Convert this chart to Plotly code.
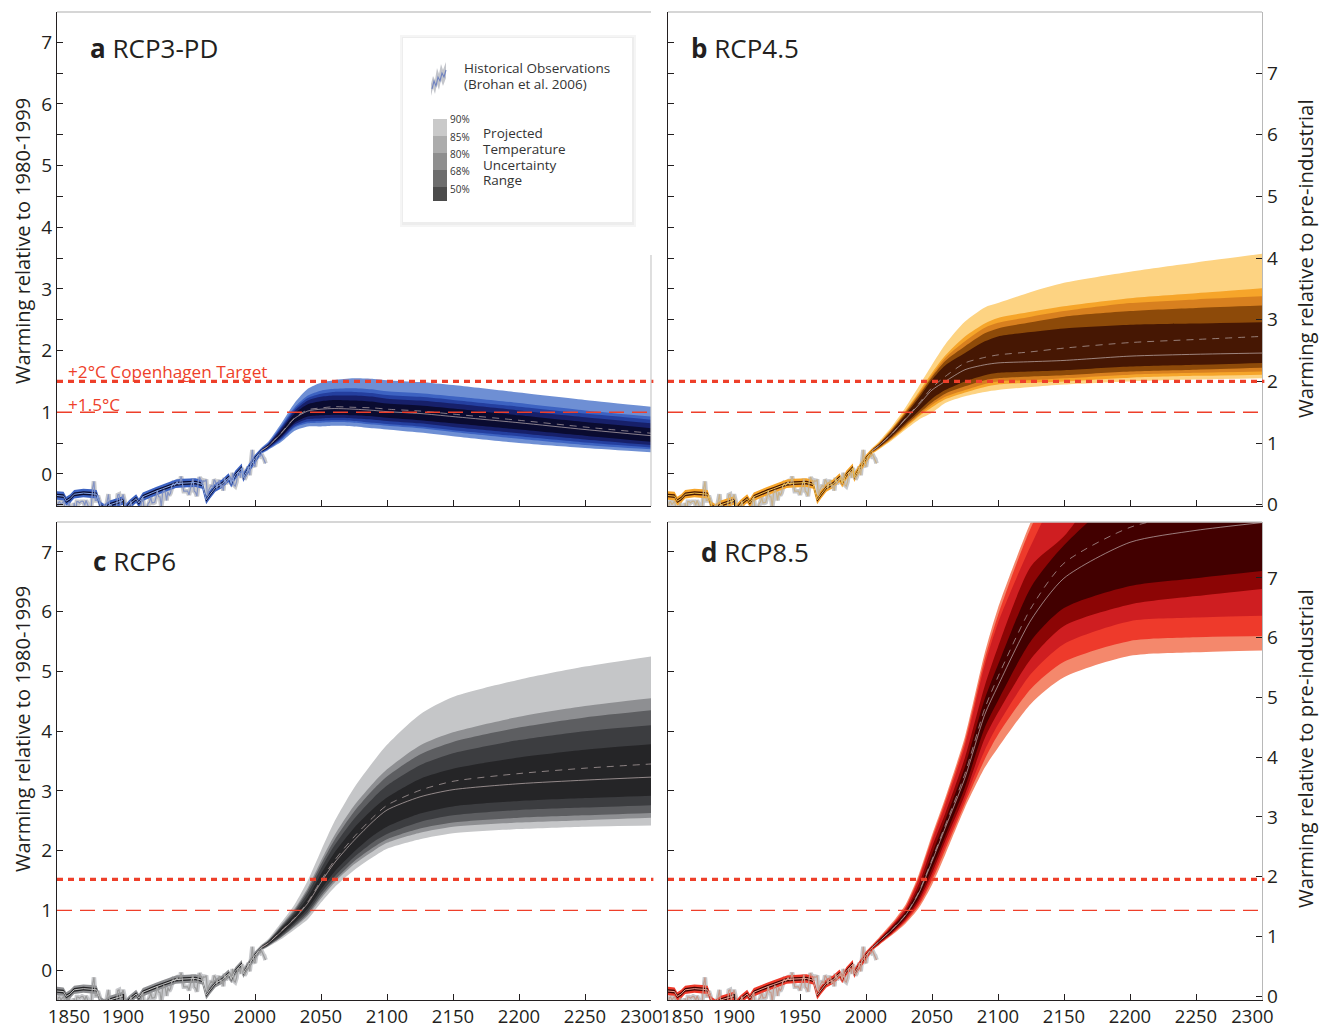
import plotly.graph_objects as go

# ------------------------------------------------------------------ data
OBS_YEARS = list(range(1850, 2009))
OBS = [
    -0.60, -0.46, -0.45, -0.50, -0.47, -0.44, -0.55, -0.66, -0.56, -0.46,
    -0.55, -0.61, -0.74, -0.47, -0.66, -0.45, -0.45, -0.47, -0.45, -0.44,
    -0.45, -0.51, -0.43, -0.48, -0.52, -0.60, -0.52, -0.23, -0.12, -0.43,
    -0.43, -0.35, -0.41, -0.48, -0.57, -0.55, -0.49, -0.56, -0.42, -0.33,
    -0.56, -0.50, -0.59, -0.62, -0.59, -0.56, -0.34, -0.33, -0.50, -0.40,
    -0.33, -0.42, -0.51, -0.60, -0.67, -0.52, -0.44, -0.61, -0.64, -0.67,
    -0.65, -0.69, -0.62, -0.61, -0.45, -0.37, -0.58, -0.69, -0.58, -0.48,
    -0.46, -0.38, -0.47, -0.47, -0.46, -0.38, -0.27, -0.37, -0.37, -0.53,
    -0.31, -0.26, -0.29, -0.43, -0.29, -0.35, -0.31, -0.19, -0.16, -0.18,
    -0.15, -0.13, -0.16, -0.16, -0.04, -0.16, -0.28, -0.28, -0.28, -0.28,
    -0.34, -0.22, -0.15, -0.08, -0.28, -0.30, -0.36, -0.12, -0.05, -0.10,
    -0.17, -0.11, -0.12, -0.09, -0.36, -0.26, -0.21, -0.18, -0.23, -0.09,
    -0.12, -0.24, -0.14, -0.10, -0.23, -0.17, -0.27, -0.06, -0.16, -0.10,
    -0.09, -0.04, -0.17, 0.02, -0.18, -0.20, -0.13, 0.02, 0.03, -0.06,
    0.09, 0.04, -0.09, -0.05, 0.01, 0.12, -0.02, 0.19, 0.39, 0.14,
    0.12, 0.25, 0.30, 0.31, 0.29, 0.32, 0.27, 0.24, 0.17,
]

HIST_YEARS = [1850, 1855, 1857, 1860, 1863, 1870, 1876, 1880, 1883, 1886, 1890, 1895, 1900,
              1902, 1905, 1910, 1912, 1915, 1920, 1925, 1930, 1935, 1940, 1945, 1950, 1955,
              1960, 1963, 1966, 1970, 1975, 1980, 1982, 1985, 1990, 1991, 1994, 2000, 2005]
HIST_MED = [-0.35, -0.36, -0.44, -0.40, -0.33, -0.31, -0.32, -0.33, -0.52, -0.56, -0.50, -0.47, -0.43,
            -0.56, -0.49, -0.40, -0.47, -0.37, -0.32, -0.28, -0.24, -0.20, -0.16, -0.15, -0.14, -0.14,
            -0.17, -0.42, -0.33, -0.22, -0.16, -0.06, -0.15, -0.02, 0.10, -0.06, 0.05, 0.25, 0.38]
HIST_HI90 = [-0.28, -0.29, -0.37, -0.33, -0.26, -0.24, -0.25, -0.26, -0.45, -0.49, -0.43, -0.40, -0.36,
             -0.49, -0.42, -0.33, -0.40, -0.30, -0.25, -0.21, -0.17, -0.13, -0.09, -0.08, -0.07, -0.07,
             -0.10, -0.35, -0.26, -0.15, -0.09, 0.01, -0.08, 0.05, 0.17, 0.01, 0.12, 0.31, 0.43]
HIST_HI50 = [-0.32, -0.33, -0.41, -0.37, -0.30, -0.28, -0.29, -0.30, -0.49, -0.53, -0.47, -0.44, -0.40,
             -0.53, -0.46, -0.37, -0.44, -0.34, -0.29, -0.25, -0.21, -0.17, -0.13, -0.12, -0.11, -0.11,
             -0.14, -0.39, -0.30, -0.19, -0.13, -0.03, -0.12, 0.01, 0.13, -0.03, 0.08, 0.28, 0.40]
HIST_LO50 = [-0.38, -0.39, -0.47, -0.43, -0.36, -0.34, -0.35, -0.36, -0.55, -0.59, -0.53, -0.50, -0.46,
             -0.59, -0.52, -0.43, -0.50, -0.40, -0.35, -0.31, -0.27, -0.23, -0.19, -0.18, -0.17, -0.17,
             -0.20, -0.45, -0.36, -0.25, -0.19, -0.09, -0.18, -0.05, 0.07, -0.09, 0.02, 0.22, 0.36]
HIST_LO90 = [-0.42, -0.43, -0.51, -0.47, -0.40, -0.38, -0.39, -0.40, -0.59, -0.63, -0.57, -0.54, -0.50,
             -0.63, -0.56, -0.47, -0.54, -0.44, -0.39, -0.35, -0.31, -0.27, -0.23, -0.22, -0.21, -0.21,
             -0.24, -0.49, -0.40, -0.29, -0.23, -0.13, -0.22, -0.09, 0.03, -0.13, -0.02, 0.18, 0.33]

PROJ_YEARS = [2005, 2010, 2020, 2030, 2040, 2050, 2060, 2075, 2090, 2100, 2125, 2150, 2200, 2250, 2300]

# a  RCP3-PD
A_P95 = [0.43, 0.52, 0.82, 1.15, 1.38, 1.48, 1.52, 1.55, 1.54, 1.52, 1.49, 1.44, 1.32, 1.20, 1.09]
A_P925 = [0.42, 0.50, 0.78, 1.08, 1.27, 1.35, 1.38, 1.39, 1.37, 1.34, 1.31, 1.26, 1.15, 1.03, 0.93]
A_P90 = [0.41, 0.49, 0.76, 1.05, 1.23, 1.30, 1.33, 1.33, 1.31, 1.28, 1.25, 1.20, 1.09, 0.98, 0.88]
A_P84 = [0.40, 0.48, 0.74, 1.02, 1.19, 1.25, 1.27, 1.27, 1.25, 1.22, 1.19, 1.14, 1.03, 0.92, 0.82]
A_P75 = [0.395, 0.47, 0.71, 0.98, 1.13, 1.18, 1.20, 1.19, 1.17, 1.14, 1.11, 1.06, 0.95, 0.84, 0.74]
A_P50 = [0.38, 0.45, 0.66, 0.90, 1.02, 1.05, 1.06, 1.05, 1.03, 1.01, 0.98, 0.93, 0.83, 0.72, 0.62]
A_MEAN = [0.38, 0.45, 0.67, 0.91, 1.04, 1.07, 1.09, 1.08, 1.07, 1.05, 1.02, 0.97, 0.87, 0.76, 0.66]
A_P25 = [0.365, 0.43, 0.61, 0.83, 0.93, 0.95, 0.96, 0.95, 0.93, 0.91, 0.87, 0.82, 0.72, 0.62, 0.52]
A_P16 = [0.36, 0.42, 0.59, 0.80, 0.89, 0.90, 0.91, 0.90, 0.88, 0.86, 0.82, 0.76, 0.66, 0.56, 0.47]
A_P10 = [0.35, 0.41, 0.57, 0.77, 0.85, 0.86, 0.87, 0.86, 0.83, 0.81, 0.77, 0.71, 0.61, 0.51, 0.43]
A_P075 = [0.34, 0.40, 0.55, 0.75, 0.82, 0.83, 0.84, 0.83, 0.80, 0.78, 0.74, 0.68, 0.57, 0.47, 0.40]
A_P05 = [0.33, 0.39, 0.52, 0.70, 0.77, 0.77, 0.78, 0.77, 0.74, 0.72, 0.67, 0.61, 0.50, 0.42, 0.35]

# b  RCP4.5
B_P95 = [0.43, 0.53, 0.78, 1.08, 1.42, 1.77, 2.10, 2.47, 2.70, 2.77, 2.95, 3.10, 3.28, 3.43, 3.57]
B_P925 = [0.42, 0.51, 0.75, 1.03, 1.33, 1.64, 1.92, 2.23, 2.44, 2.53, 2.63, 2.72, 2.85, 2.93, 3.01]
B_P90 = [0.41, 0.50, 0.74, 1.01, 1.30, 1.60, 1.88, 2.15, 2.37, 2.45, 2.55, 2.64, 2.77, 2.83, 2.88]
B_P84 = [0.40, 0.49, 0.72, 0.99, 1.27, 1.57, 1.83, 2.07, 2.28, 2.36, 2.46, 2.55, 2.64, 2.69, 2.73]
B_P75 = [0.395, 0.48, 0.70, 0.96, 1.23, 1.53, 1.76, 1.96, 2.15, 2.23, 2.30, 2.36, 2.42, 2.44, 2.46]
B_P50 = [0.38, 0.46, 0.66, 0.89, 1.12, 1.36, 1.50, 1.69, 1.77, 1.80, 1.82, 1.84, 1.91, 1.94, 1.96]
B_MEAN = [0.38, 0.46, 0.66, 0.90, 1.14, 1.40, 1.58, 1.80, 1.89, 1.93, 1.98, 2.04, 2.13, 2.18, 2.23]
B_P25 = [0.365, 0.44, 0.62, 0.82, 1.02, 1.22, 1.36, 1.50, 1.60, 1.64, 1.66, 1.68, 1.74, 1.77, 1.80]
B_P16 = [0.36, 0.43, 0.60, 0.79, 0.98, 1.16, 1.30, 1.42, 1.52, 1.55, 1.58, 1.60, 1.66, 1.69, 1.72]
B_P10 = [0.35, 0.42, 0.58, 0.77, 0.95, 1.12, 1.25, 1.36, 1.46, 1.50, 1.52, 1.55, 1.61, 1.64, 1.66]
B_P075 = [0.34, 0.41, 0.57, 0.75, 0.93, 1.08, 1.21, 1.32, 1.41, 1.45, 1.48, 1.50, 1.56, 1.59, 1.61]
B_P05 = [0.33, 0.40, 0.55, 0.72, 0.88, 0.99, 1.15, 1.26, 1.33, 1.36, 1.41, 1.45, 1.50, 1.53, 1.55]

# c  RCP6
C_P95 = [0.43, 0.52, 0.80, 1.10, 1.50, 2.00, 2.48, 3.05, 3.50, 3.77, 4.28, 4.57, 4.86, 5.08, 5.25]
C_P925 = [0.42, 0.50, 0.76, 1.03, 1.38, 1.83, 2.25, 2.75, 3.14, 3.36, 3.76, 3.98, 4.24, 4.42, 4.55]
C_P90 = [0.41, 0.49, 0.74, 1.00, 1.34, 1.77, 2.17, 2.65, 3.03, 3.24, 3.61, 3.82, 4.06, 4.23, 4.35]
C_P84 = [0.40, 0.48, 0.72, 0.97, 1.29, 1.70, 2.08, 2.53, 2.89, 3.09, 3.43, 3.63, 3.85, 4.00, 4.10]
C_P75 = [0.395, 0.47, 0.70, 0.93, 1.22, 1.61, 1.96, 2.38, 2.71, 2.89, 3.20, 3.37, 3.56, 3.69, 3.78]
C_P50 = [0.38, 0.45, 0.65, 0.86, 1.12, 1.47, 1.79, 2.17, 2.50, 2.68, 2.90, 3.02, 3.12, 3.18, 3.23]
C_MEAN = [0.38, 0.45, 0.66, 0.87, 1.14, 1.50, 1.83, 2.23, 2.57, 2.76, 3.01, 3.16, 3.29, 3.38, 3.45]
C_P25 = [0.365, 0.43, 0.60, 0.80, 1.03, 1.35, 1.64, 1.98, 2.26, 2.40, 2.62, 2.74, 2.83, 2.88, 2.92]
C_P16 = [0.36, 0.42, 0.58, 0.77, 0.98, 1.29, 1.56, 1.89, 2.15, 2.28, 2.48, 2.59, 2.68, 2.72, 2.76]
C_P10 = [0.35, 0.41, 0.56, 0.74, 0.94, 1.24, 1.50, 1.82, 2.06, 2.19, 2.37, 2.47, 2.55, 2.59, 2.63]
C_P075 = [0.34, 0.40, 0.55, 0.72, 0.91, 1.20, 1.46, 1.77, 2.00, 2.13, 2.30, 2.40, 2.47, 2.51, 2.55]
C_P05 = [0.33, 0.39, 0.52, 0.68, 0.85, 1.13, 1.38, 1.67, 1.90, 2.03, 2.19, 2.29, 2.36, 2.40, 2.42]

# d  RCP8.5
D_P95 = [0.43, 0.55, 0.80, 1.10, 1.60, 2.26, 2.88, 3.91, 5.31, 6.06, 7.51, 8.66, 9.86, 10.26, 10.46]
D_P925 = [0.42, 0.53, 0.77, 1.06, 1.56, 2.21, 2.83, 3.84, 5.21, 5.94, 7.41, 8.41, 9.56, 9.96, 10.16]
D_P90 = [0.41, 0.52, 0.76, 1.04, 1.52, 2.16, 2.76, 3.76, 5.11, 5.81, 7.11, 8.16, 9.26, 9.66, 9.86]
D_P84 = [0.40, 0.51, 0.74, 1.00, 1.44, 2.06, 2.62, 3.56, 4.76, 5.41, 6.76, 7.26, 8.66, 9.06, 9.16]
D_P75 = [0.395, 0.50, 0.72, 0.97, 1.36, 1.94, 2.51, 3.41, 4.54, 5.11, 6.41, 7.11, 8.06, 8.36, 8.46]
D_P50 = [0.38, 0.48, 0.68, 0.92, 1.29, 1.82, 2.38, 3.22, 4.28, 4.76, 5.86, 6.56, 7.16, 7.36, 7.49]
D_MEAN = [0.38, 0.48, 0.69, 0.93, 1.31, 1.85, 2.42, 3.29, 4.38, 4.91, 6.06, 6.81, 7.41, 7.66, 7.86]
D_P25 = [0.365, 0.46, 0.65, 0.88, 1.21, 1.70, 2.24, 3.06, 4.06, 4.51, 5.51, 6.06, 6.43, 6.56, 6.68]
D_P16 = [0.36, 0.45, 0.63, 0.85, 1.16, 1.62, 2.16, 2.94, 3.88, 4.31, 5.21, 5.76, 6.12, 6.26, 6.38]
D_P10 = [0.35, 0.44, 0.62, 0.83, 1.12, 1.56, 2.08, 2.86, 3.68, 4.11, 4.96, 5.46, 5.84, 5.90, 5.93]
D_P075 = [0.34, 0.43, 0.61, 0.81, 1.08, 1.50, 2.01, 2.79, 3.53, 3.94, 4.71, 5.16, 5.51, 5.57, 5.59]
D_P05 = [0.33, 0.42, 0.59, 0.78, 1.04, 1.43, 1.93, 2.72, 3.39, 3.72, 4.46, 4.90, 5.26, 5.32, 5.35]

X_TICKS = [1850, 1900, 1950, 2000, 2050, 2100, 2150, 2200, 2250, 2300]
NB = "\u00a0"
X_TEXT_C = [NB * 5 + "1850", "1900", "1950", "2000", "2050", "2100", "2150", "2200", "2250",
            "2300" + NB * 4]
X_TEXT_D = [NB * 6 + "1850", "1900", "1950", "2000", "2050", "2100", "2150", "2200", "2250",
            "2300" + NB * 4]
Y_TICKS = [0, 1, 2, 3, 4, 5, 6, 7]
Y_TICKS_HALF = [0, 0.5, 1, 1.5, 2, 2.5, 3, 3.5, 4, 4.5, 5, 5.5, 6, 6.5, 7]
COPENHAGEN = 1.5
TARGET_15 = 1.0
PERCENT_LABELS = ["90%", "85%", "80%", "68%", "50%"]

# ------------------------------------------------------------------ styles
COLORS_A = ["#6e8fd4", "#3d63c2", "#243f9f", "#17206a", "#0a0b30"]
COLORS_B = ["#fdd382", "#f6a52a", "#d8801f", "#8d4a09", "#461703"]
COLORS_C = ["#c5c6c8", "#8e8f92", "#5d5e61", "#3c3d40", "#252527"]
COLORS_D = ["#f4886c", "#ee3a2b", "#cf1e21", "#8c0505", "#420000"]
LEGEND_SWATCH = ["#c9c9c9", "#acacac", "#8f8f8f", "#6d6d6d", "#4b4b4b"]
RED = "#ee3f2a"
INK = "#231f20"
FONT = "Open Sans"

W, H = 1319, 1027


def px(x):
    return x / W


def py(y):
    return 1 - y / H


fig = go.Figure()
SPL = dict(shape="spline", smoothing=0.7)


def add_band(xa, ya, xs, lo, hi, color, smooth):
    shp = SPL if smooth else dict(shape="linear")
    fig.add_trace(go.Scatter(x=xs, y=lo, mode="lines", line=dict(width=0, **shp),
                             hoverinfo="skip", showlegend=False, xaxis=xa, yaxis=ya))
    fig.add_trace(go.Scatter(x=xs, y=hi, mode="lines", line=dict(width=0, **shp),
                             fill="tonexty", fillcolor=color,
                             hoverinfo="skip", showlegend=False, xaxis=xa, yaxis=ya))


def add_line(xa, ya, xs, ys, color, width, dash="solid", smooth=False):
    shp = SPL if smooth else dict(shape="linear")
    fig.add_trace(go.Scatter(
        x=xs, y=ys, mode="lines", line=dict(color=color, width=width, dash=dash, **shp),
        hoverinfo="skip", showlegend=False, xaxis=xa, yaxis=ya))


panels = [
    ("x", "y", [(A_P05, A_P95), (A_P075, A_P925), (A_P10, A_P90), (A_P16, A_P84), (A_P25, A_P75)],
     A_P50, A_MEAN, COLORS_A, "#86a6e6", "#8393c4"),
    ("x2", "y2", [(B_P05, B_P95), (B_P075, B_P925), (B_P10, B_P90), (B_P16, B_P84), (B_P25, B_P75)],
     B_P50, B_MEAN, COLORS_B, "#f4c24a", "#c9b28a"),
    ("x3", "y3", [(C_P05, C_P95), (C_P075, C_P925), (C_P10, C_P90), (C_P16, C_P84), (C_P25, C_P75)],
     C_P50, C_MEAN, COLORS_C, "#c4c4c4", "#9c9c9c"),
    ("x4", "y4", [(D_P05, D_P95), (D_P075, D_P925), (D_P10, D_P90), (D_P16, D_P84), (D_P25, D_P75)],
     D_P50, D_MEAN, COLORS_D, "#e8a090", "#c69a8c"),
]

for xa, ya, bands, med, mean, cols, hist_col, obs_col in panels:
    add_line(xa, ya, OBS_YEARS, OBS, "rgba(180,181,186,0.75)", 4.5)
    add_band(xa, ya, HIST_YEARS, HIST_LO90, HIST_HI90, cols[1], False)
    add_band(xa, ya, HIST_YEARS, HIST_LO50, HIST_HI50, cols[4], False)
    for (lo, hi), c in zip(bands, cols):
        add_band(xa, ya, PROJ_YEARS, lo, hi, c, True)
    add_line(xa, ya, OBS_YEARS, OBS, obs_col, 1.2)
    add_line(xa, ya, HIST_YEARS, HIST_MED, hist_col, 1)
    add_line(xa, ya, PROJ_YEARS, med, "rgba(200,185,185,0.75)", 0.9, smooth=True)
    add_line(xa, ya, PROJ_YEARS, mean, "rgba(190,175,175,0.75)", 0.9, "7px,6px", smooth=True)

fig.add_trace(go.Scatter(x=[2000], y=[None], xaxis="x2", yaxis="y5", showlegend=False, hoverinfo="skip"))
fig.add_trace(go.Scatter(x=[2000], y=[None], xaxis="x4", yaxis="y6", showlegend=False, hoverinfo="skip"))

TICKFONT = dict(family=FONT, size=19, color=INK)
XTICKFONT = dict(family=FONT, size=18.5, color=INK)

xcommon = dict(range=[1850, 2300], tickvals=X_TICKS, ticks="inside", ticklen=6, tickwidth=1,
               tickcolor=INK, showline=True, linecolor=INK, linewidth=1.3, showgrid=False,
               zeroline=False, tickfont=XTICKFONT, tickangle=0, fixedrange=True, automargin=False)
ycommon = dict(ticks="inside", ticklen=6, tickwidth=1, tickcolor=INK, showline=True, linecolor=INK,
               linewidth=1.3, showgrid=False, zeroline=False, tickfont=TICKFONT, fixedrange=True,
               automargin=False)
yright = dict(side="right", tickvals=Y_TICKS, ticks="inside", ticklen=6, tickcolor=INK, showline=True,
              linecolor="#b8b8b8", linewidth=1.2, showgrid=False, zeroline=False, tickfont=TICKFONT,
              fixedrange=True, automargin=False)

XD_L = [px(57), px(651)]
XD_R = [px(668), px(1262)]
YD_T = [py(506), py(12)]
YD_B = [py(1000), py(522)]
RNG_T = [-0.52, 7.49]
RNG_B = [-0.50, 7.50]

fig.update_layout(
    width=W, height=H, autosize=False,
    margin=dict(l=0, r=0, t=0, b=0, pad=0),
    paper_bgcolor="white", plot_bgcolor="white",
    showlegend=False,
    font=dict(family=FONT, color=INK),
    xaxis=dict(domain=XD_L, anchor="y", showticklabels=False, **xcommon),
    xaxis2=dict(domain=XD_R, anchor="y2", showticklabels=False, **xcommon),
    xaxis3=dict(domain=XD_L, anchor="y3", showticklabels=True, ticktext=X_TEXT_C, **xcommon),
    xaxis4=dict(domain=XD_R, anchor="y4", showticklabels=True, ticktext=X_TEXT_D, **xcommon),
    yaxis=dict(domain=YD_T, anchor="x", range=RNG_T, tickvals=Y_TICKS,
               minor=dict(ticks="inside", ticklen=6, tick0=0, dtick=0.5, tickcolor=INK), **ycommon),
    yaxis2=dict(domain=YD_T, anchor="x2", range=RNG_T, tickvals=Y_TICKS_HALF, showticklabels=False,
                **ycommon),
    yaxis3=dict(domain=YD_B, anchor="x3", range=RNG_B, tickvals=Y_TICKS, **ycommon),
    yaxis4=dict(domain=YD_B, anchor="x4", range=RNG_B, tickvals=Y_TICKS, showticklabels=False, **ycommon),
    yaxis5=dict(overlaying="y2", anchor="x2", range=[-0.02, 7.99], **yright),
    yaxis6=dict(overlaying="y4", anchor="x4", range=[-0.065, 7.935], **yright),
)

shapes = []
for xr, yr in [("x", "y"), ("x2", "y2"), ("x3", "y3"), ("x4", "y4")]:
    lvl2 = COPENHAGEN if yr in ("y", "y2") else COPENHAGEN + 0.02
    shapes.append(dict(type="line", xref=f"{xr} domain", yref=yr, x0=0, x1=1.004, y0=lvl2, y1=lvl2,
                       line=dict(color=RED, width=3.2, dash="6px,5px"), layer="above"))
    shapes.append(dict(type="line", xref=f"{xr} domain", yref=yr, x0=0, x1=1.004, y0=TARGET_15, y1=TARGET_15,
                       line=dict(color=RED, width=1.4, dash="15px,8px"), layer="above"))
    shapes.append(dict(type="line", xref=f"{xr} domain", yref=f"{yr} domain", x0=0, x1=1, y0=1, y1=1,
                       line=dict(color="#c9c9c9", width=1.3), layer="above"))
shapes.append(dict(type="line", xref="paper", yref="paper", x0=px(651), x1=px(651), y0=py(506), y1=py(255),
                   line=dict(color="#c9c9c9", width=1.2)))

# legend box with faint shadow
shapes.append(dict(type="rect", xref="paper", yref="paper", x0=px(400), x1=px(636), y0=py(227), y1=py(35),
                   fillcolor="#f5f5f5", line=dict(width=0), layer="above"))
shapes.append(dict(type="rect", xref="paper", yref="paper", x0=px(402), x1=px(634), y0=py(225), y1=py(37),
                   fillcolor="#ededed", line=dict(width=0), layer="above"))
shapes.append(dict(type="rect", xref="paper", yref="paper", x0=px(403), x1=px(632), y0=py(222), y1=py(38),
                   fillcolor="white", line=dict(width=0), layer="above"))
sw_edges = [119, 136, 153, 170, 187, 201]
for i, c in enumerate(LEGEND_SWATCH):
    shapes.append(dict(type="rect", xref="paper", yref="paper", x0=px(433), x1=px(447),
                       y0=py(sw_edges[i + 1]), y1=py(sw_edges[i]), fillcolor=c, line=dict(width=0),
                       layer="above"))


def path(points, close=False):
    s = "M " + " L ".join(f"{px(a):.5f},{py(b):.5f}" for a, b in points)
    return s + (" Z" if close else "")


icon_band = [(431, 84), (433, 76), (435, 80), (437, 68), (439, 74), (441, 64), (443, 70), (446, 62),
             (446, 78), (443, 86), (441, 80), (439, 90), (437, 84), (435, 94), (433, 88), (431, 96)]
icon_line = [(432, 89), (434, 81), (436, 86), (438, 77), (440, 81), (442, 73), (444, 77), (446, 70)]
shapes.append(dict(type="path", xref="paper", yref="paper", path=path(icon_band, True),
                   fillcolor="#c3c5cb", line=dict(width=0), layer="above"))
shapes.append(dict(type="path", xref="paper", yref="paper", path=path(icon_line),
                   line=dict(color="#6f82c0", width=1.1), layer="above"))

fig.update_layout(shapes=shapes)

ann = []


def text(x, y, s, size, color=INK, xanchor="left", yanchor="middle", angle=0):
    ann.append(dict(x=px(x), y=py(y), xref="paper", yref="paper", text=s, showarrow=False,
                    xanchor=xanchor, yanchor=yanchor, textangle=angle,
                    font=dict(family=FONT, size=size, color=color)))


text(88, 48, "<b>a</b> RCP3-PD", 26)
text(689, 48, "<b>b</b> RCP4.5", 26)
text(91, 561, "<b>c</b> RCP6", 26)
text(699, 552, "<b>d</b> RCP8.5", 26)

text(22, 241, "Warming relative to 1980-1999", 20, xanchor="center", angle=-90)
text(22, 729, "Warming relative to 1980-1999", 20, xanchor="center", angle=-90)
text(1305, 259, "Warming relative to pre-industrial", 20.3, xanchor="center", angle=-90)
text(1305, 749, "Warming relative to pre-industrial", 20.3, xanchor="center", angle=-90)

text(66, 371, "+2°C Copenhagen Target", 17.2, color=RED)
text(66, 404, "+1.5°C", 17.2, color=RED)

text(462, 68, "Historical Observations", 13.5, color="#333333")
text(462, 84, "(Brohan et al. 2006)", 13.5, color="#333333")
for lbl, yy in zip(PERCENT_LABELS, [119, 137, 154, 171, 189]):
    text(448, yy, lbl, 10, color="#333333")
for lbl, yy in zip(["Projected", "Temperature", "Uncertainty", "Range"], [133, 149, 165, 180]):
    text(481, yy, lbl, 13.5, color="#333333")

fig.update_layout(annotations=ann)

fig.write_html("out.html", config={"displayModeBar": False},
               post_script="document.body.style.margin='0px';document.body.style.overflow='hidden';")
